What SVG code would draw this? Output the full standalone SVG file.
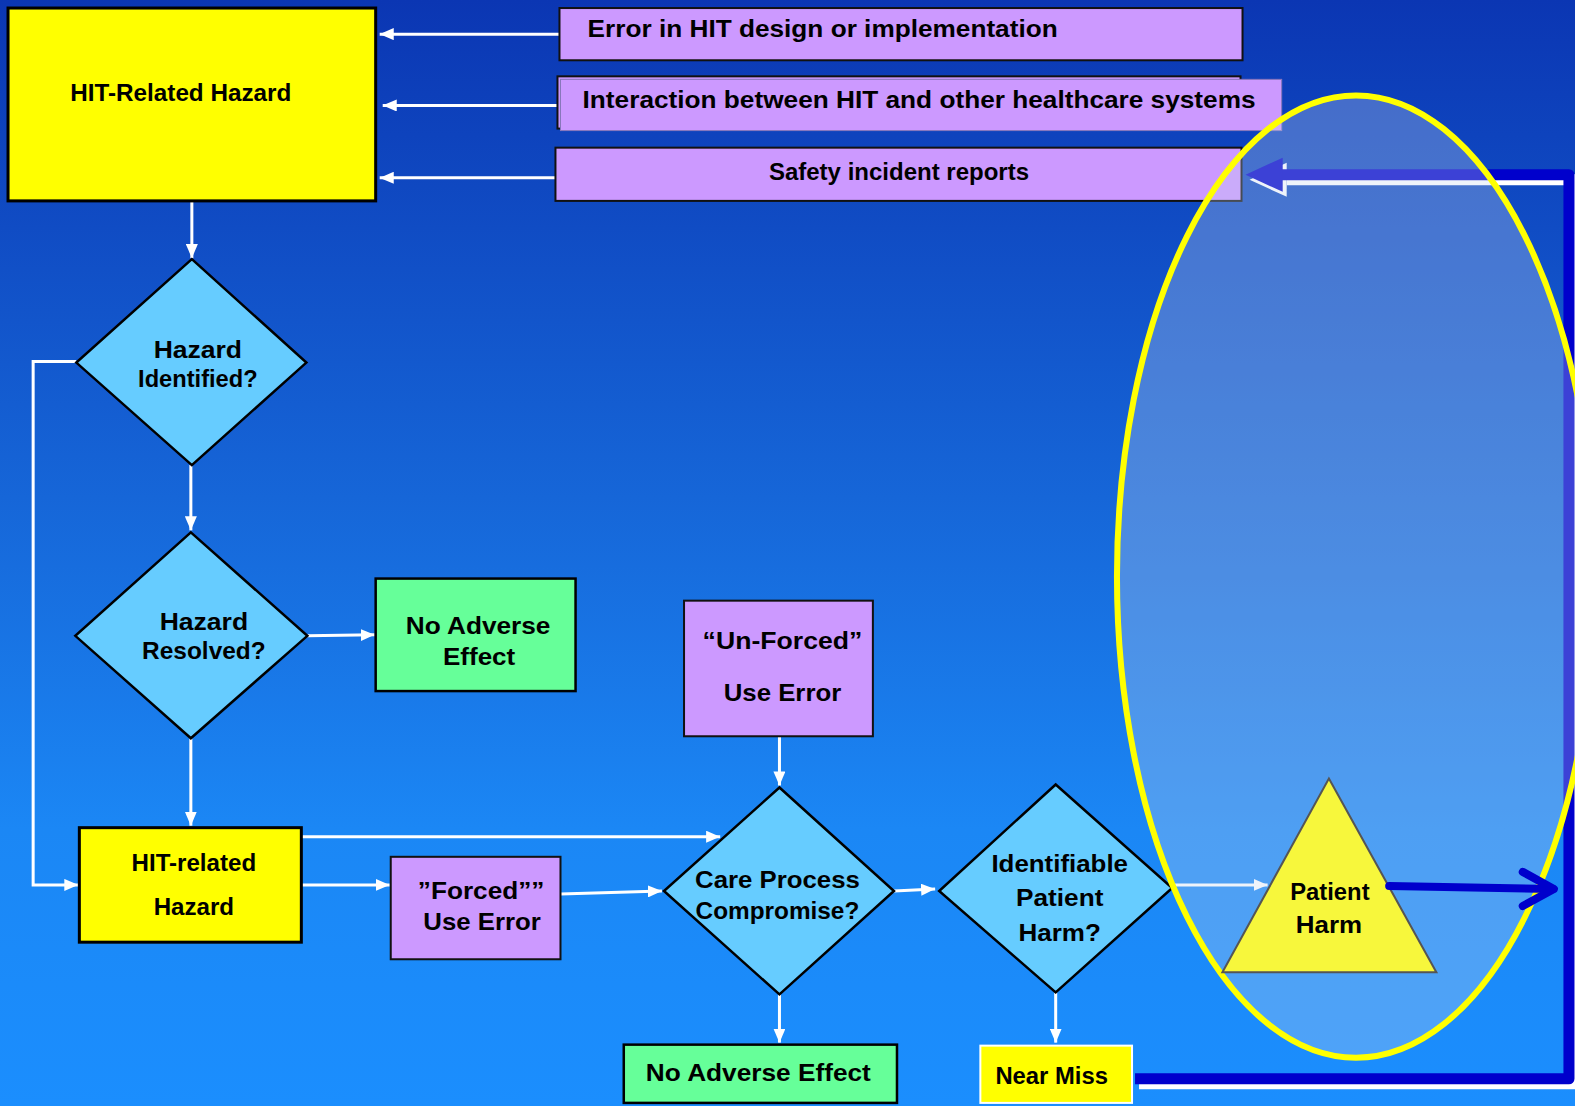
<svg xmlns="http://www.w3.org/2000/svg" width="1575" height="1106" viewBox="0 0 1575 1106">
<defs>
<linearGradient id="bg" x1="0" y1="0" x2="0" y2="1">
<stop offset="0" stop-color="#0b36b3"/>
<stop offset="0.45" stop-color="#1666d8"/>
<stop offset="0.75" stop-color="#1b87f5"/>
<stop offset="1" stop-color="#1b8efe"/>
</linearGradient>
<marker id="ah" viewBox="0 0 14 12" refX="14" refY="6" markerWidth="14" markerHeight="12" markerUnits="userSpaceOnUse" orient="auto">
<path d="M0,0 L14,6 L0,12 Z" fill="#ffffff"/>
</marker>
<style>
.c{fill:none;stroke:#ffffff;stroke-width:3;marker-end:url(#ah)}
.y{fill:#ffff00;stroke:#000;stroke-width:3}
.p{fill:#cc99ff;stroke:#111;stroke-width:2}
.d{fill:#66ccff;stroke:#000;stroke-width:2.5}
.g{fill:#66ff99;stroke:#000;stroke-width:2.5}
text{font-family:"Liberation Sans",Arial,sans-serif;font-weight:bold;font-size:24px;fill:#000;text-anchor:middle}
.l{text-anchor:start}
</style>
</defs>
<rect x="0" y="0" width="1575" height="1106" fill="url(#bg)"/>
<g transform="scale(1.00446)">
<g id="connectors">
<line class="c" x1="557" y1="34" x2="378" y2="34"/>
<line class="c" x1="557" y1="105" x2="381" y2="105"/>
<line class="c" x1="555" y1="177" x2="378" y2="177"/>
<line class="c" x1="191" y1="200" x2="191" y2="257"/>
<line class="c" x1="190" y1="463" x2="190" y2="528"/>
<line class="c" x1="306" y1="633" x2="373" y2="632"/>
<line class="c" x1="190" y1="735" x2="190" y2="822"/>
<polyline class="c" points="76,360 33,360 33,881 78,881"/>
<line class="c" x1="300" y1="833" x2="717" y2="833"/>
<line class="c" x1="300" y1="881" x2="388" y2="881"/>
<line class="c" x1="558" y1="890" x2="659" y2="887"/>
<line class="c" x1="776" y1="733" x2="776" y2="782"/>
<line class="c" x1="776" y1="990" x2="776" y2="1038"/>
<line class="c" x1="890" y1="887" x2="931" y2="885"/>
<line class="c" x1="1167" y1="881" x2="1262" y2="881"/>
<line class="c" x1="1051" y1="988" x2="1051" y2="1038"/>
</g>

<g id="hit-related-hazard-top">
<rect class="y" x="8" y="8" width="366" height="192"/>
<text x="180" y="101" textLength="220" lengthAdjust="spacingAndGlyphs">HIT-Related Hazard</text>
</g>
<g id="error-design">
<rect class="p" x="557" y="8" width="680" height="52"/>
<text class="l" x="585" y="37" textLength="468" lengthAdjust="spacingAndGlyphs">Error in HIT design or implementation</text>
</g>
<g id="interaction">
<rect class="p" x="555" y="76" width="680" height="52"/>
<rect x="558" y="79" width="718" height="51" fill="#cc99ff" stroke="#8877bb" stroke-width="1"/>
<text x="915" y="108" textLength="670" lengthAdjust="spacingAndGlyphs">Interaction between HIT and other healthcare systems</text>
</g>
<g id="safety-reports">
<rect class="p" x="553" y="147" width="683" height="53"/>
<text x="895" y="179" textLength="259" lengthAdjust="spacingAndGlyphs">Safety incident reports</text>
</g>
<g id="hazard-identified">
<polygon class="d" points="191,258 305,361 191,463 76,361"/>
<text x="197" y="356" textLength="88" lengthAdjust="spacingAndGlyphs">Hazard</text>
<text x="197" y="385" textLength="119" lengthAdjust="spacingAndGlyphs">Identified?</text>
</g>
<g id="hazard-resolved">
<polygon class="d" points="190,530 306,633 190,735 75,633"/>
<text x="203" y="627" textLength="88" lengthAdjust="spacingAndGlyphs">Hazard</text>
<text x="203" y="656" textLength="123" lengthAdjust="spacingAndGlyphs">Resolved?</text>
</g>
<g id="no-adverse-effect-1">
<rect class="g" x="374" y="576" width="199" height="112"/>
<text x="476" y="631" textLength="144" lengthAdjust="spacingAndGlyphs">No Adverse</text>
<text x="477" y="662" textLength="72" lengthAdjust="spacingAndGlyphs">Effect</text>
</g>
<g id="hit-related-hazard">
<rect class="y" x="79" y="824" width="221" height="114"/>
<text x="193" y="867">HIT-related</text>
<text x="193" y="911">Hazard</text>
</g>
<g id="forced-use-error">
<rect class="p" x="389" y="853" width="169" height="102" stroke="#000"/>
<text x="479" y="895" textLength="126" lengthAdjust="spacingAndGlyphs">”Forced””</text>
<text x="480" y="926" textLength="117" lengthAdjust="spacingAndGlyphs">Use Error</text>
</g>
<g id="unforced-use-error">
<rect class="p" x="681" y="598" width="188" height="135" stroke="#000"/>
<text x="779" y="646" textLength="159" lengthAdjust="spacingAndGlyphs">“Un-Forced”</text>
<text x="779" y="698" textLength="117" lengthAdjust="spacingAndGlyphs">Use Error</text>
</g>
<g id="care-process">
<polygon class="d" points="776,784 890,887 776,990 661,887"/>
<text x="774" y="884" textLength="164" lengthAdjust="spacingAndGlyphs">Care Process</text>
<text x="774" y="915" textLength="163" lengthAdjust="spacingAndGlyphs">Compromise?</text>
</g>
<g id="no-adverse-effect-2">
<rect class="g" x="621" y="1040" width="272" height="58"/>
<text x="755" y="1076" textLength="224" lengthAdjust="spacingAndGlyphs">No Adverse Effect</text>
</g>
<g id="identifiable-harm">
<polygon class="d" points="1051,781 1167,884 1051,988 935,887"/>
<text x="1055" y="868" textLength="136" lengthAdjust="spacingAndGlyphs">Identifiable</text>
<text x="1055" y="902" textLength="87" lengthAdjust="spacingAndGlyphs">Patient</text>
<text x="1055" y="937" textLength="82" lengthAdjust="spacingAndGlyphs">Harm?</text>
</g>
<g id="near-miss">
<rect x="976" y="1041" width="151" height="57" fill="#ffff00" stroke="#ffffff" stroke-width="2"/>
<text x="1047" y="1079" textLength="112" lengthAdjust="spacingAndGlyphs">Near Miss</text>
</g>

<g id="feedback-loop">
<polyline points="1134,1079 1567,1079 1567,179 1281,179" fill="none" stroke="#ffffff" stroke-width="11"/>
<polygon points="1244,179 1281,162 1281,196" fill="#ffffff"/>
<polyline points="1130,1074 1562,1074 1562,174 1270,174" fill="none" stroke="#0000cc" stroke-width="11" stroke-linejoin="round"/>
<polygon points="1240,174 1277,157 1277,191" fill="#0000cc"/>
</g>

<ellipse cx="1350" cy="574" rx="238" ry="479" fill="#c8d7f0" fill-opacity="0.3" stroke="#ffff00" stroke-width="6"/>

<g id="patient-harm">
<polygon points="1323,775 1430,968 1217,968" fill="#f7f73c" stroke="#555555" stroke-width="2"/>
<text x="1324" y="896" textLength="79" lengthAdjust="spacingAndGlyphs">Patient</text>
<text x="1323" y="929" textLength="66" lengthAdjust="spacingAndGlyphs">Harm</text>
</g>
<g id="harm-arrow" fill="none" stroke="#0000cc" stroke-width="8" stroke-linecap="round" stroke-linejoin="round">
<line x1="1383" y1="882" x2="1546" y2="885"/>
<polyline points="1516,868 1547,885 1516,902"/>
</g>
</g>
</svg>
